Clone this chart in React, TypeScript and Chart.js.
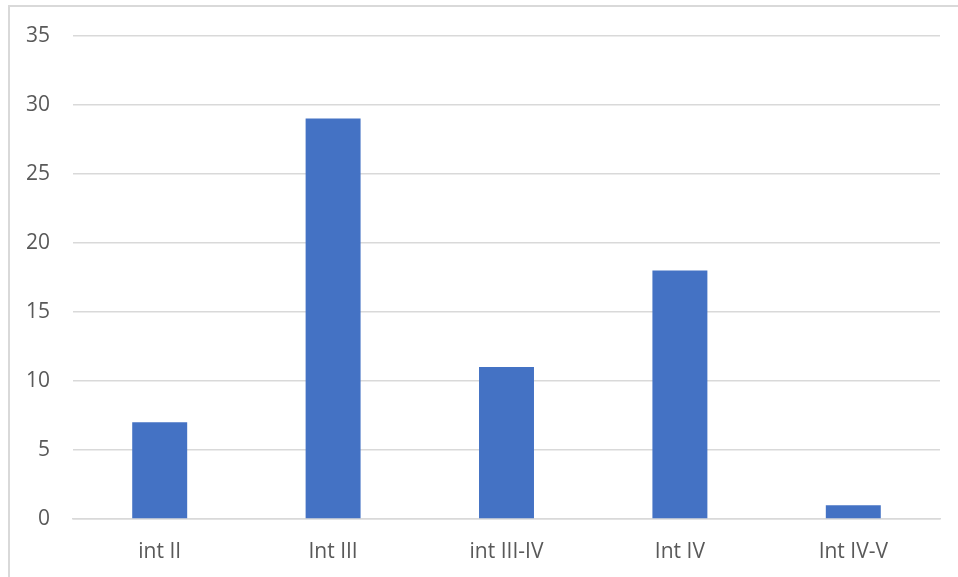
import React, { useEffect, useRef } from "react";
import { Chart, registerables } from "chart.js";

Chart.register(...registerables);

const categories = ["int II", "Int III", "int III-IV", "Int IV", "Int IV-V"];
const values = [7, 29, 11, 18, 1];
const yMin = 0;
const yMax = 35;
const yStep = 5;

export default function App() {
  const ref = useRef<HTMLCanvasElement | null>(null);

  useEffect(() => {
    if (!ref.current) return;
    const font = { family: "'Open Sans', sans-serif", size: 21 };
    const chart = new Chart(ref.current, {
      type: "bar",
      data: {
        labels: categories,
        datasets: [
          {
            data: values,
            backgroundColor: "#4472C4",
            borderWidth: 0,
            barPercentage: 1,
            categoryPercentage: 0.317,
          },
        ],
      },
      options: {
        responsive: false,
        animation: false,
        devicePixelRatio: 1,
        layout: { padding: { left: 0, right: 18, top: 35, bottom: 0 } },
        plugins: {
          legend: { display: false },
          tooltip: { enabled: false },
          title: { display: false },
        },
        scales: {
          x: {
            grid: { display: false, drawTicks: false },
            border: { display: true, color: "#d9d9d9", width: 1.5 },
            ticks: { color: "#595959", font, padding: 20, maxRotation: 0 },
            afterFit: (s: any) => {
              s.height = 58;
            },
          },
          y: {
            min: yMin,
            max: yMax,
            grid: { color: "#d9d9d9", lineWidth: 1.5, drawTicks: false },
            border: { display: false },
            ticks: { stepSize: yStep, color: "#595959", font, padding: 23 },
            afterFit: (s: any) => {
              s.width = 73;
            },
          },
        },
      },
    });
    return () => chart.destroy();
  }, []);

  return (
    <div style={{ position: "fixed", left: 0, top: 0, width: 958, height: 577, background: "#fff", overflow: "hidden" }}>
      <div
        style={{
          position: "absolute",
          left: 8,
          top: 5,
          width: 1000,
          height: 1000,
          borderTop: "2px solid #d9d9d9",
          borderLeft: "2px solid #d9d9d9",
          boxSizing: "border-box",
        }}
      />
      <canvas ref={ref} width={958} height={577} style={{ position: "absolute", left: 0, top: 0, width: 958, height: 577 }} />
    </div>
  );
}
